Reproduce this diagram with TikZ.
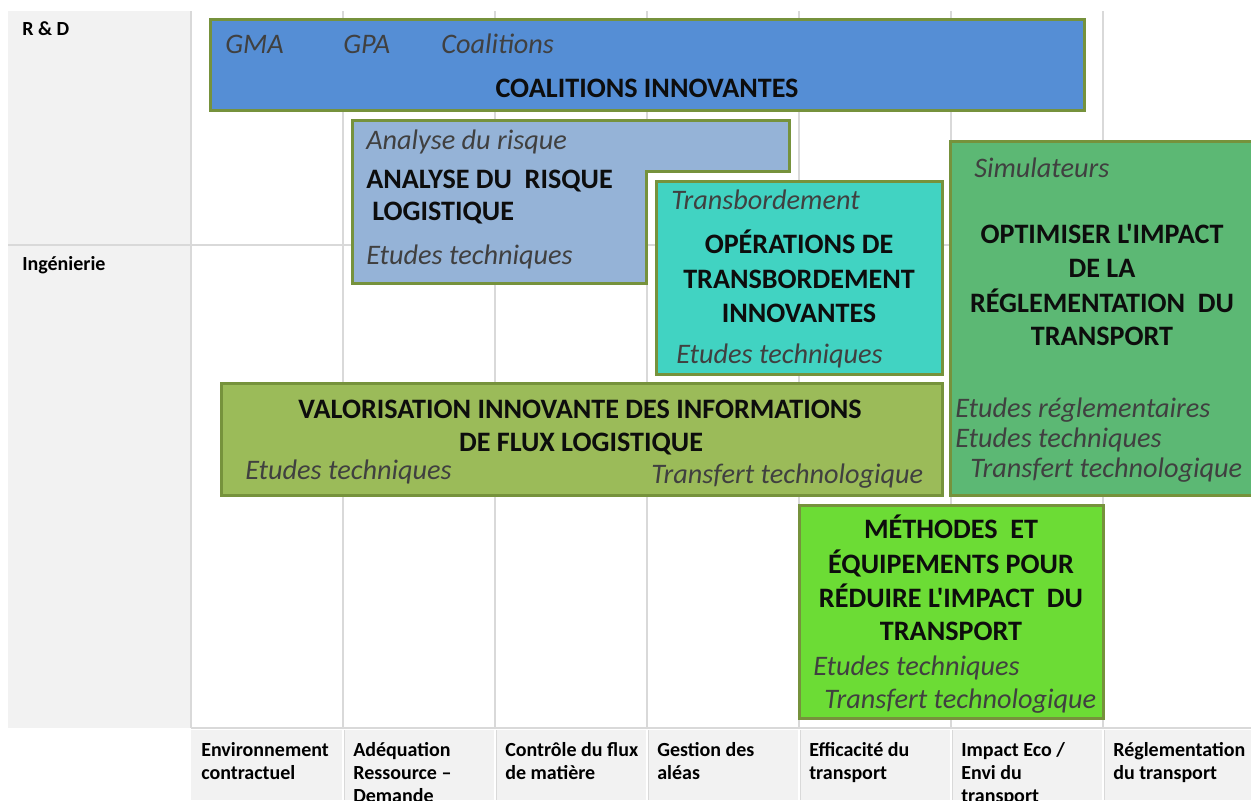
\documentclass[tikz,border=0pt]{standalone}
\usepackage{fontspec}
\setmainfont{Carlito}[Ligatures=TeXOff]
\definecolor{bordercol}{HTML}{76923C}
\definecolor{blueA}{HTML}{558ED5}
\definecolor{blueB}{HTML}{95B3D7}
\definecolor{tealC}{HTML}{41D3C2}
\definecolor{greenD}{HTML}{5CB874}
\definecolor{oliveE}{HTML}{9BBB59}
\definecolor{limeF}{HTML}{6CDC35}
\definecolor{labgray}{HTML}{404040}
\definecolor{titblack}{HTML}{0D0D0D}
\definecolor{panelgray}{HTML}{F2F2F2}
\definecolor{gridgray}{HTML}{D9D9D9}
\tikzset{
  boxdraw/.style={draw=bordercol, line width=2.25pt, line join=miter},
  lab/.style={font=\fontsize{21.2}{25}\selectfont\itshape, text=labgray, inner sep=0pt, anchor=base west},
  ttl/.style={font=\fontsize{21.1}{25}\selectfont\bfseries, text=titblack, inner sep=0pt, anchor=base},
  ttlw/.style={font=\fontsize{21.1}{25}\selectfont\bfseries, text=titblack, inner sep=0pt, anchor=base west},
  axl/.style={font=\fontsize{15}{18}\selectfont\bfseries, text=black, inner sep=0pt, anchor=base west},
  gridline/.style={draw=gridgray, line width=1.1pt},
}
\begin{document}
\begin{tikzpicture}[x=0.75pt,y=-0.75pt]
\useasboundingbox (0,0) rectangle (1251,800);
\clip (0,0) rectangle (1251,800);
% left panel
\fill[panelgray] (8,11) rectangle (191,728);
% bottom row cells
\fill[panelgray] (191,730) rectangle (1251,800);
\foreach \xx in {343,495,647,799,951,1103}{
  \draw[white, line width=1.5pt] (\xx,730) -- (\xx,800);
  \draw[gridgray, line width=0.6pt] (\xx+1.5,730) -- (\xx+1.5,800);
}
% grid lines
\foreach \xx in {191,343,495,647,799,951,1103}{
  \draw[gridline] (\xx,11) -- (\xx,728);
}
\draw[gridline] (8,245) -- (1251,245);
\draw[gridline] (191,728) -- (1251,728);
% row labels
\node[axl] (rd) at (22,35) {R \& D};
\node[axl] (ing) at (22,270) {Ingénierie};
% column labels
\node[axl] (c1a) at (201,756) {Environnement};
\node[axl] (c1b) at (201,779) {contractuel};
\node[axl] (c2a) at (353,756) {Adéquation};
\node[axl] (c2b) at (353,779) {Ressource –};
\node[axl] (c2c) at (353,802) {Demande};
\node[axl] (c3a) at (505,756) {Contrôle du flux};
\node[axl] (c3b) at (505,779) {de matière};
\node[axl] (c4a) at (657,756) {Gestion des};
\node[axl] (c4b) at (657,779) {aléas};
\node[axl] (c5a) at (809,756) {Efficacité du};
\node[axl] (c5b) at (809,779) {transport};
\node[axl] (c6a) at (961,756) {Impact Eco /};
\node[axl] (c6b) at (961,779) {Envi du};
\node[axl] (c6c) at (961,802) {transport};
\node[axl] (c7a) at (1113,756) {Réglementation};
\node[axl] (c7b) at (1113,779) {du transport};
% box 1 blue
\path[boxdraw, fill=blueA] (210,19) rectangle (1084,110);
\node[lab] (gma) at (225,53) {GMA};
\node[lab] (gpa) at (343,53) {GPA};
\node[lab] (coal) at (441,53) {Coalitions};
\node[ttl] (coalt) at (647,97) {COALITIONS INNOVANTES};
% box 2 L-shape
\path[boxdraw, fill=blueB] (352,120) -- (789,120) -- (789,171) -- (646,171) -- (646,283) -- (352,283) -- cycle;
\node[lab] (ar) at (366,149) {Analyse du risque};
\node[ttlw] (art1) at (366,188) {ANALYSE DU\ \ RISQUE};
\node[ttlw] (art2) at (372,220) {LOGISTIQUE};
\node[lab] (are) at (366,264) {Etudes techniques};
% box 3 teal
\path[boxdraw, fill=tealC] (656,181) rectangle (942,374);
\node[lab] (tb) at (671,209) {Transbordement};
\node[ttl] (tbt1) at (799,253) {OPÉRATIONS DE};
\node[ttl] (tbt2) at (799,288) {TRANSBORDEMENT};
\node[ttl] (tbt3) at (799,322) {INNOVANTES};
\node[lab] (tbe) at (676,363) {Etudes techniques};
% box 4 green right
\path[boxdraw, fill=greenD] (950,141) rectangle (1258,495);
\node[lab] (sim) at (974,177) {Simulateurs};
\node[ttl] (opt1) at (1102,243) {OPTIMISER L'IMPACT};
\node[ttl] (opt2) at (1102,277) {DE LA};
\node[ttl] (opt3) at (1102,312) {RÉGLEMENTATION\ \ DU};
\node[ttl] (opt4) at (1102,345) {TRANSPORT};
\node[lab] (optr) at (955,417) {Etudes réglementaires};
\node[lab] (opte) at (955,447) {Etudes techniques};
\node[lab] (optt) at (970,477) {Transfert technologique};
% box 5 olive
\path[boxdraw, fill=oliveE] (221,383) rectangle (942,495);
\node[ttl] (val1) at (580,418) {VALORISATION INNOVANTE DES INFORMATIONS};
\node[ttl] (val2) at (581,451) {DE FLUX LOGISTIQUE};
\node[lab] (vale) at (245,479) {Etudes techniques};
\node[lab] (valt) at (651,483) {Transfert technologique};
% box 6 lime
\path[boxdraw, fill=limeF] (799,505) rectangle (1103,718);
\node[ttl] (met1) at (951,538) {MÉTHODES\ \ ET};
\node[ttl] (met2) at (951,573) {ÉQUIPEMENTS POUR};
\node[ttl] (met3) at (951,607) {RÉDUIRE L'IMPACT\ \ DU};
\node[ttl] (met4) at (951,640) {TRANSPORT};
\node[lab] (mete) at (813,675) {Etudes techniques};
\node[lab] (mett) at (824,708) {Transfert technologique};
\end{tikzpicture}
\end{document}
